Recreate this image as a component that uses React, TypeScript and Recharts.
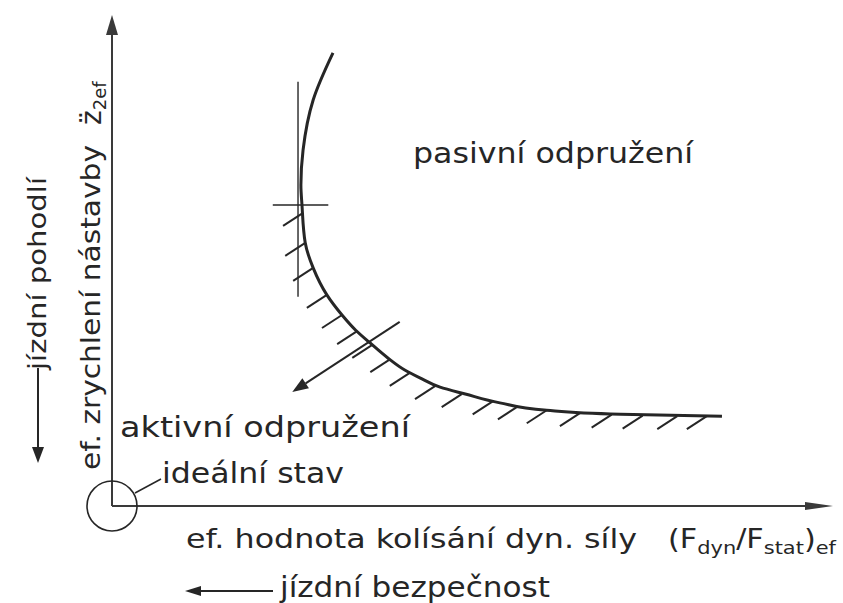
import {
  ComposedChart,
  Line,
  Scatter,
  XAxis,
  YAxis,
  ReferenceLine,
  ReferenceDot,
  Customized,
} from "recharts";

/* ── data (units: 0..100 on both axes) ── */

// boundary curve of passive suspension
const curveX = [30.65, 27.9, 26.5, 26.2, 26.35, 26.8, 27.9, 29.8, 31.9, 33.8, 35.8, 38.3, 40.6, 42.7, 45.5, 49.0, 53.8, 60.3, 70.5, 84.6];
const curveY = [92.3, 82.7, 72.5, 65.4, 61.3, 53.6, 48.5, 43.0, 38.9, 35.8, 33.2, 30.1, 27.7, 26.1, 24.2, 22.8, 21.0, 19.5, 18.7, 18.3];

// hatch anchors along the curve
const hatchX = [26.5, 26.8, 27.9, 29.8, 31.9, 34.0, 36.1, 38.6, 41.3, 44.8, 48.5, 52.8, 56.3, 60.3, 64.9, 69.3, 73.6, 78.4, 82.5];
const hatchY = [59.7, 53.6, 48.5, 43.0, 38.9, 35.6, 32.8, 29.9, 27.1, 24.4, 22.8, 21.3, 20.3, 19.5, 18.9, 18.6, 18.4, 18.3, 18.3];

// tangents and normal arrow
const vTangent: [number, number][] = [[25.8, 86.4], [25.8, 42.6]];
const hTangent: [number, number][] = [[22.3, 61.3], [30.0, 61.3]];
const normalArrow: [number, number][] = [[39.9, 37.5], [25.0, 23.2]];

const AXIS_MAX = 100;

const INK = "#262626";
const FONT = "'DejaVu Sans', sans-serif";

const curveData = curveX.map((x, i) => ({ x, y: curveY[i] }));
const hatchData = hatchX.map((x, i) => ({ x, y: hatchY[i] }));

/* ── shapes ── */

function arrowShape(len: number, half: number, width: number, color: string) {
  return (props: any) => {
    const { x1, y1, x2, y2 } = props;
    const dx = x2 - x1;
    const dy = y2 - y1;
    const d = Math.hypot(dx, dy) || 1;
    const ux = dx / d;
    const uy = dy / d;
    const bx = x2 - ux * len;
    const by = y2 - uy * len;
    const px = -uy * half;
    const py = ux * half;
    return (
      <g>
        <line x1={x1} y1={y1} x2={bx} y2={by} stroke={color} strokeWidth={width} />
        <polygon
          points={`${x2},${y2} ${bx + px},${by + py} ${bx - px},${by - py}`}
          fill={color}
        />
      </g>
    );
  };
}

function HatchMark(props: any) {
  const { cx, cy } = props;
  if (cx == null || cy == null) return <g />;
  return <line x1={cx} y1={cy} x2={cx - 20} y2={cy + 13} stroke={INK} strokeWidth={2} />;
}

function Annotations() {
  const t = { fontFamily: FONT, fill: INK } as const;
  return (
    <g>
      <text {...t} x={413} y={163} fontSize={28} textLength={280} lengthAdjust="spacingAndGlyphs">
        pasivní odpružení
      </text>
      <text {...t} x={120} y={437} fontSize={29} textLength={290} lengthAdjust="spacingAndGlyphs">
        aktivní odpružení
      </text>
      <text {...t} x={162} y={483} fontSize={28} textLength={182} lengthAdjust="spacingAndGlyphs">
        ideální stav
      </text>
      <line x1={135} y1={493} x2={161} y2={479} stroke={INK} strokeWidth={1.5} />
      <text {...t} x={186} y={548} fontSize={27} textLength={451} lengthAdjust="spacingAndGlyphs">
        ef. hodnota kolísání dyn. síly
      </text>
      <text {...t} x={668} y={548} fontSize={26} textLength={168} lengthAdjust="spacingAndGlyphs">
        (F<tspan fontSize={18} dy={6}>dyn</tspan>
        <tspan dy={-6}>/F</tspan>
        <tspan fontSize={18} dy={6}>stat</tspan>
        <tspan dy={-6}>)</tspan>
        <tspan fontSize={18} dy={6}>ef</tspan>
      </text>
      <text {...t} x={280} y={597} fontSize={28} textLength={270} lengthAdjust="spacingAndGlyphs">
        jízdní bezpečnost
      </text>
      <line x1={273} y1={591} x2={198} y2={591} stroke={INK} strokeWidth={2} />
      <polygon points="185,591 201,586 201,596" fill={INK} />

      <text
        {...t}
        x={46}
        y={370}
        fontSize={25}
        textLength={193}
        lengthAdjust="spacingAndGlyphs"
        transform="rotate(-90 46 370)"
      >
        jízdní pohodlí
      </text>
      <line x1={38} y1={368} x2={38} y2={450} stroke={INK} strokeWidth={2} />
      <polygon points="38,463 32,447 44,447" fill={INK} />

      <text
        {...t}
        x={100}
        y={470}
        fontSize={27}
        textLength={325}
        lengthAdjust="spacingAndGlyphs"
        transform="rotate(-90 100 470)"
      >
        ef. zrychlení nástavby
      </text>
      <text {...t} x={101} y={125} fontSize={28} transform="rotate(-90 101 125)">
        z̈<tspan fontSize={18} dy={5}>2ef</tspan>
      </text>
    </g>
  );
}

export default function App() {
  return (
    <div style={{ position: "absolute", left: 0, top: 0, background: "#fff" }}>
      <ComposedChart
        width={843}
        height={603}
        margin={{ top: 15, right: 10, bottom: 97, left: 112 }}
      >
        <XAxis type="number" dataKey="x" domain={[0, AXIS_MAX]} hide />
        <YAxis type="number" dataKey="y" domain={[0, AXIS_MAX]} hide />

        {/* axes with arrow tips */}
        <ReferenceLine
          segment={[{ x: 0, y: 0 }, { x: AXIS_MAX, y: 0 }]}
          shape={arrowShape(28, 4, 2, "#3a3a3a")}
          ifOverflow="visible"
        />
        <ReferenceLine
          segment={[{ x: 0, y: 0 }, { x: 0, y: AXIS_MAX }]}
          shape={arrowShape(20, 6, 2, "#3a3a3a")}
          ifOverflow="visible"
        />

        {/* tangent lines at the curve's extreme point */}
        <ReferenceLine
          segment={vTangent.map(([x, y]) => ({ x, y }))}
          stroke={INK}
          strokeWidth={1.4}
          ifOverflow="visible"
        />
        <ReferenceLine
          segment={hTangent.map(([x, y]) => ({ x, y }))}
          stroke={INK}
          strokeWidth={1.4}
          ifOverflow="visible"
        />

        <Scatter data={hatchData} dataKey="y" shape={<HatchMark />} isAnimationActive={false} />

        <Line
          data={curveData}
          dataKey="y"
          type="monotoneY"
          stroke={INK}
          strokeWidth={3}
          dot={false}
          isAnimationActive={false}
        />

        <ReferenceLine
          segment={normalArrow.map(([x, y]) => ({ x, y }))}
          shape={arrowShape(16, 6, 2, INK)}
          ifOverflow="visible"
        />

        {/* ideal state circle at the origin */}
        <ReferenceDot
          x={0}
          y={0}
          r={25}
          fill="none"
          stroke={INK}
          strokeWidth={1.6}
          ifOverflow="visible"
        />

        <Customized component={<Annotations />} />
      </ComposedChart>
    </div>
  );
}
